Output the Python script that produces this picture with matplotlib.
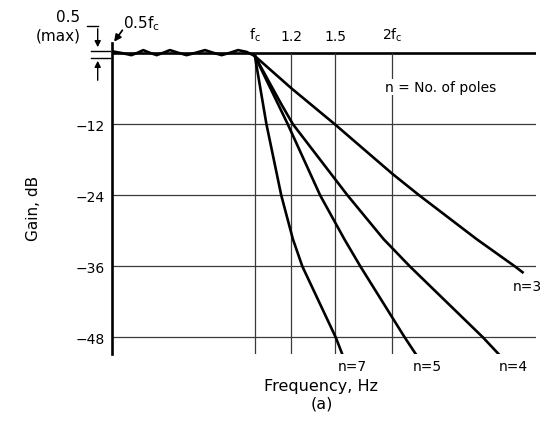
import matplotlib
matplotlib.use('Agg')
import matplotlib.pyplot as plt
from matplotlib.lines import Line2D
from matplotlib.ticker import NullLocator

# passband ripple, 0.5 fc .. fc (exaggerated as drawn)
ripple_f = [0.487, 0.512, 0.537, 0.554, 0.570, 0.589, 0.610, 0.630, 0.652, 0.680,
            0.709, 0.742, 0.778, 0.811, 0.846, 0.882, 0.919, 0.959, 1.0]
ripple_db = [0.3, 0.0, -0.35, 0.05, 0.5, 0.05, -0.35, 0.05, 0.5, 0.05,
             -0.35, 0.05, 0.5, 0.05, -0.35, 0.05, 0.5, 0.2, -0.5]

# roll-off above fc, f in units of fc
n3_f = [1.0, 1.200, 1.495, 1.711, 2.000, 2.287, 3.054, 3.703, 3.850]
n3_db = [-0.5, -5.9, -12.0, -15.9, -20.4, -24.0, -31.4, -36.0, -37.0]
n4_f = [1.0, 1.142, 1.211, 1.594, 1.912, 2.182, 3.155, 3.431]
n4_db = [-0.5, -8.6, -12.0, -24.0, -31.4, -36.0, -48.0, -51.0]
n5_f = [1.0, 1.180, 1.389, 1.569, 1.701, 2.127, 2.257]
n5_db = [-0.5, -12.0, -24.0, -31.4, -36.0, -48.0, -51.0]
n7_f = [1.0, 1.060, 1.142, 1.211, 1.270, 1.503, 1.556]
n7_db = [-0.5, -12.0, -24.0, -31.4, -36.0, -48.0, -51.0]

grid_db = [-12, -24, -36, -48]
grid_f = [1.0, 1.2, 1.5, 2.0]
top_labels = ['$\\mathregular{f_c}$', '1.2', '1.5', '2$\\mathregular{f_c}$']
f_lo, f_hi = 0.487, 4.12
db_lo, db_hi = -50.8, 1.7

W, H = 555, 435
fig = plt.figure(figsize=(W / 100, H / 100), dpi=100)
ax = fig.add_axes([112 / W, 80 / H, 424 / W, 311 / H])
ax.set_xscale('log')
ax.set_xlim(f_lo, f_hi)
ax.set_ylim(db_lo, db_hi)
for s in ['top', 'right', 'bottom']:
    ax.spines[s].set_visible(False)
ax.spines['left'].set_linewidth(1.9)

ax.axhline(0, color='black', lw=1.9)
ax.hlines(grid_db, f_lo, f_hi, color='#3a3a3a', lw=0.9)
ax.vlines(grid_f, db_lo, 0, color='#3a3a3a', lw=0.9)

ax.plot(ripple_f, ripple_db, color='black', lw=1.9, solid_joinstyle='round')
for f, db in [(n3_f, n3_db), (n4_f, n4_db), (n5_f, n5_db), (n7_f, n7_db)]:
    ax.plot(f, db, color='black', lw=1.9, solid_joinstyle='round')

ax.set_yticks(grid_db)
ax.set_yticklabels(['\u221212', '\u221224', '\u221236', '\u221248'])
ax.tick_params(axis='y', length=0, pad=5, labelsize=10)
ax.xaxis.set_minor_locator(NullLocator())
ax.xaxis.tick_top()
ax.set_xticks(grid_f)
ax.set_xticklabels(top_labels)
ax.tick_params(axis='x', length=0, pad=0, labelsize=10)


def P(x, y):
    return (x, H - y)


def fx(x, y):
    return x / W, 1 - y / H


# 0.5 dB (max) marker
fig.text(*fx(68, 18), '0.5', ha='center', va='center', fontsize=11)
fig.text(*fx(58, 36), '(max)', ha='center', va='center', fontsize=11)
fig.add_artist(Line2D([87 / W, 97.7 / W], [1 - 27 / H] * 2, color='k', lw=1))
ax.annotate('', xy=P(97.7, 51), xytext=P(97.7, 27), xycoords='figure pixels',
            arrowprops=dict(arrowstyle='-|>', color='k', lw=1, mutation_scale=9))
ax.annotate('', xy=P(97.7, 59), xytext=P(97.7, 84), xycoords='figure pixels',
            arrowprops=dict(arrowstyle='-|>', color='k', lw=1, mutation_scale=9))
for y in [51.7, 58.5]:
    fig.add_artist(Line2D([91 / W, 110 / W], [1 - y / H] * 2, color='k', lw=1))

fig.text(*fx(141, 24), '0.5$\\mathregular{f_c}$', ha='center', va='center', fontsize=11)
ax.annotate('', xy=P(112.5, 45), xytext=P(124, 29), xycoords='figure pixels',
            arrowprops=dict(arrowstyle='-|>', color='k', lw=1.3, mutation_scale=10))

fig.text(*fx(441, 88), 'n = No. of poles', ha='center', va='center', fontsize=10,
         bbox=dict(facecolor='white', edgecolor='none', pad=1))

fig.text(*fx(527, 287), 'n=3', ha='center', va='center', fontsize=10)
fig.text(*fx(352, 367), 'n=7', ha='center', va='center', fontsize=10)
fig.text(*fx(427, 367), 'n=5', ha='center', va='center', fontsize=10)
fig.text(*fx(513, 367), 'n=4', ha='center', va='center', fontsize=10)

fig.text(*fx(33, 208), 'Gain, dB', rotation=90, ha='center', va='center', fontsize=11)
fig.text(*fx(321, 387), 'Frequency, Hz', ha='center', va='center', fontsize=11.5)
fig.text(*fx(322, 404), '(a)', ha='center', va='center', fontsize=11.5)

fig.savefig('out.png', dpi=100)
